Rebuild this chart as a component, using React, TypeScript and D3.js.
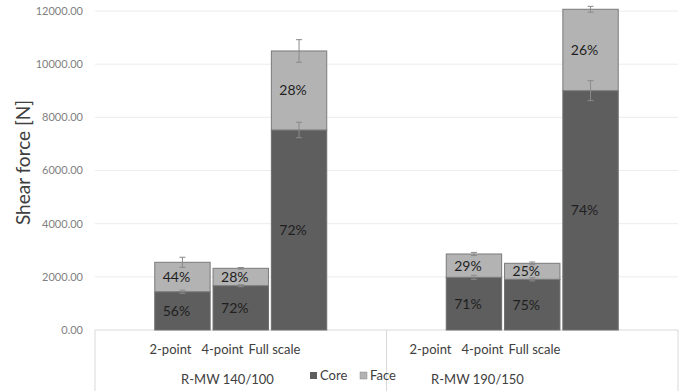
import React from 'react';
import * as d3 from 'd3';

const WIDTH = 682;
const HEIGHT = 391;

// slots on the category axis, blanks included (as in the excel sheet)
const slots = ['', '2-point', '4-point', 'Full scale', '', '', '2-point', '4-point', 'Full scale', ''];
const barSlots = [1, 2, 3, 6, 7, 8];
const groups = ['R-MW 140/100', 'R-MW 190/150'];

const coreValues = [1440, 1667, 7524, 1982, 1907, 9003];
const faceValues = [1107, 654, 2973, 877, 602, 3062];
const coreErr = [60, 40, 290, 75, 60, 375];
const faceErr = [190, 30, 425, 60, 50, 110];
const coreLabels = ['56%', '72%', '72%', '71%', '75%', '74%'];
const faceLabels = ['44%', '28%', '28%', '29%', '25%', '26%'];

const yTicks = [0, 2000, 4000, 6000, 8000, 10000, 12000];

const CORE = '#5e5e5e';
const FACE = '#b3b3b3';
const FONT = 'Lato, "Liberation Sans", Arial, sans-serif';

const margin = { l: 95, r: 4, t: 11, b: 61 };

const App = () => {
  const plotW = WIDTH - margin.l - margin.r;
  const plotH = HEIGHT - margin.t - margin.b;

  const x = d3
    .scaleBand<number>()
    .domain(d3.range(slots.length))
    .range([0, plotW])
    .paddingInner(0.05)
    .paddingOuter(0.025);

  // category text sits a bit off the bars in the original
  const xLabel = d3
    .scaleBand<number>()
    .domain(d3.range(slots.length))
    .range([-2.5, 517.5]);

  const y = d3.scaleLinear().domain([0, 12000]).range([plotH, 0]);

  const step = plotW / slots.length;

  return (
    <svg width={WIDTH} height={HEIGHT} style={{ position: 'absolute', left: 0, top: 0 }} fontFamily={FONT}>
      <rect width={WIDTH} height={HEIGHT} fill="#fff" />
      <text
        transform={`translate(30, ${margin.t + y(6000) - 8}) rotate(-90)`}
        textAnchor="middle"
        fontSize={19}
        fill="#404040"
      >
        Shear force [N]
      </text>
      <g transform={`translate(${margin.l}, ${margin.t})`}>
        {yTicks.map((t) => (
          <g key={t}>
            <line x1={0} x2={plotW} y1={y(t)} y2={y(t)} stroke={t === 0 ? '#d9d9d9' : '#ececec'} />
            <text x={-12} y={y(t)} dy="0.35em" textAnchor="end" fontSize={11} fill="#7f7f7f">
              {d3.format('.2f')(t)}
            </text>
          </g>
        ))}

        {/* category axis frame */}
        {[0, 5, 10].map((i) => (
          <line key={i} x1={i * step} x2={i * step} y1={plotH} y2={HEIGHT} stroke="#d9d9d9" />
        ))}

        {barSlots.map((s, i) => {
          const x0 = x(s) as number;
          const bw = x.bandwidth();
          const total = coreValues[i] + faceValues[i];
          const cx = x0 + bw / 2;
          return (
            <g key={i}>
              <rect x={x0} y={y(coreValues[i])} width={bw} height={y(0) - y(coreValues[i])} fill={CORE} stroke="#6e6e6e" />
              <rect x={x0} y={y(total)} width={bw} height={y(coreValues[i]) - y(total)} fill={FACE} stroke="#7a7a7a" />
              <text
                x={cx - 6}
                y={(y(0) + y(coreValues[i])) / 2}
                dy="0.35em"
                textAnchor="middle"
                fontSize={14}
                fill="#1f1f1f"
              >
                {coreLabels[i]}
              </text>
              <text
                x={cx - 6}
                y={(y(coreValues[i]) + y(total)) / 2}
                dy="0.35em"
                textAnchor="middle"
                fontSize={14}
                fill="#1f1f1f"
              >
                {faceLabels[i]}
              </text>
              {[
                [coreValues[i], coreErr[i]],
                [total, faceErr[i]],
              ].map(([v, e], k) => (
                <g key={k} stroke="#8a8a8a" strokeWidth={1}>
                  <line x1={cx} x2={cx} y1={y(v - e)} y2={y(v + e)} />
                  <line x1={cx - 3} x2={cx + 3} y1={y(v + e)} y2={y(v + e)} />
                  <line x1={cx - 3} x2={cx + 3} y1={y(v - e)} y2={y(v - e)} />
                </g>
              ))}
            </g>
          );
        })}

        {slots.map((c, i) =>
          c ? (
            <text
              key={i}
              x={(xLabel(i) as number) + xLabel.bandwidth() / 2}
              y={plotH + 24}
              textAnchor="middle"
              fontSize={13}
              fill="#404040"
            >
              {c}
            </text>
          ) : null
        )}
        {groups.map((g, k) => (
          <text
            key={g}
            x={(xLabel(k * 5) as number) + 2.5 * xLabel.bandwidth() + (k === 0 ? 5 : -5)}
            y={plotH + 54}
            textAnchor="middle"
            fontSize={13}
            fill="#404040"
          >
            {g}
          </text>
        ))}

        {/* legend */}
        <g transform={`translate(${215}, ${plotH + 42})`} fontSize={13} fill="#404040">
          <rect x={0} y={0} width={7} height={7} fill={CORE} />
          <text x={10} y={8}>Core</text>
          <rect x={50} y={0} width={7} height={7} fill={FACE} stroke="#8a8a8a" strokeWidth={0.5} />
          <text x={60} y={8}>Face</text>
        </g>
      </g>
    </svg>
  );
};

export default App;
